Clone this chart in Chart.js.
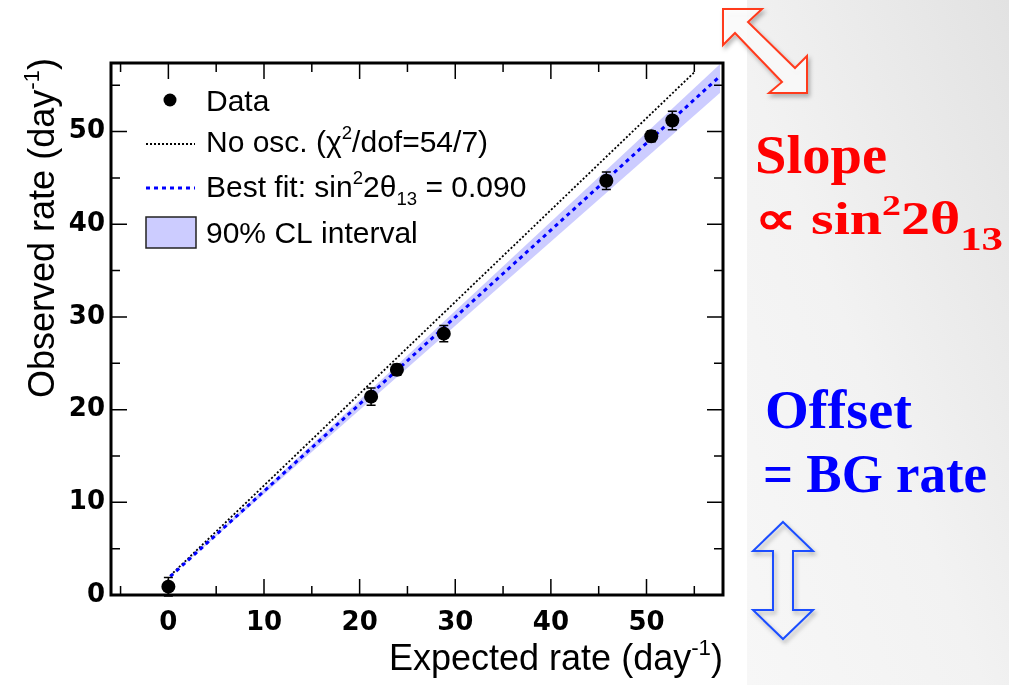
<!DOCTYPE html>
<html>
<head>
<meta charset="utf-8">
<script src="https://cdn.jsdelivr.net/npm/chart.js@4.4.1/dist/chart.umd.min.js"></script>
<style>
  html, body { margin: 0; padding: 0; width: 1009px; height: 685px; overflow: hidden; background: #fff; }
  #wrap { position: relative; width: 1009px; height: 685px; }
  #slide { position: absolute; left: 747px; top: 0; width: 262px; height: 685px;
           background: linear-gradient(to bottom left, #e2e2e2 0%, #f2f2f2 55%, #f7f7f7 100%); }
  #plot { position: absolute; left: 0; top: 0; }
  #notes { position: absolute; left: 0; top: 0; }
  #notes text { font-family: "Liberation Serif", serif; font-weight: bold; }
</style>
</head>
<body>
<div id="wrap">
  <div id="slide"></div>
  <canvas id="plot" width="1009" height="685"></canvas>
  <svg id="notes" width="1009" height="685">
    <defs>
      <filter id="shadow" x="-20%" y="-20%" width="140%" height="140%">
        <feDropShadow dx="2" dy="3" stdDeviation="2" flood-color="#000" flood-opacity="0.3"/>
      </filter>
    </defs>
    <!-- slope arrow -->
    <polygon points="723,9 762,9 748,22 795,68 807,56 807,93 769,93 782,82 735,33 723,45"
             fill="#fff" fill-opacity="0.8" stroke="#ff3b1f" stroke-width="2" filter="url(#shadow)"/>
    <!-- offset arrow -->
    <polygon points="783,522 813,551 793,551 793,610 813,610 783,639 753,610 773,610 773,551 753,551"
             fill="none" stroke="#1a4dff" stroke-width="2" filter="url(#shadow)"/>
    <text x="755" y="173" font-size="55" fill="#ff0000" textLength="132" lengthAdjust="spacingAndGlyphs">Slope</text>
    <text x="755" y="234" font-size="46" fill="#ff0000" textLength="248" lengthAdjust="spacingAndGlyphs">∝ sin<tspan font-size="30" dy="-19">2</tspan><tspan dy="19">2θ</tspan><tspan font-size="34" dy="16">13</tspan></text>
    <text x="765" y="428" font-size="54" fill="#0000ff" textLength="147" lengthAdjust="spacingAndGlyphs">Offset</text>
    <text x="763" y="492" font-size="54" fill="#0000ff" textLength="224" lengthAdjust="spacingAndGlyphs">= BG rate</text>
  </svg>
</div>
<script>
// measured rates per detector (day^-1)
const expected = [0.0, 21.2, 23.9, 28.8, 45.8, 50.5, 52.7];
const observed = [0.9, 21.4, 24.3, 28.2, 44.7, 49.5, 51.2];
const obsError = [1.0, 0.94, 0.6, 0.88, 0.94, 0.6, 1.0];

// no oscillation line and best fit line end points
const noOscX = [0.2, 55.1];
const noOscY = [2.1, 56.5];
const fitX = [0.2, 57.5];
const fitY = [2.0, 55.8];

// 90% CL band edges
const bandX = [0.2, 57.7];
const bandHigh = [2.0, 57.3];
const bandLow = [2.0, 54.2];

// axes
const xRange = [-6, 58];
const yRange = [0, 57.4];
const tickStep = 5;
const labelStep = 10;

const legendText = [
    [['Data']],
    [['No osc. (χ'], ['2', 'sup'], ['/dof=54/7)']],
    [['Best fit: sin'], ['2', 'sup'], ['2θ'], ['13', 'sub'], [' = 0.090']],
    [['90% CL interval']]
];
const xTitle = [['Expected rate (day'], ['-1', 'sup'], [')']];
const yTitle = [['Observed rate (day'], ['-1', 'sup'], [')']];

const pts = (xs, ys) => xs.map((x, i) => ({ x, y: ys[i] }));

const BAND = '#ccccff';
const TEXT_FONT = '"Liberation Sans", Arial, sans-serif';
const TICK_FONT = { family: '"DejaVu Sans"', weight: 'bold', size: 26 };

// draws a text with super/subscript parts, returns its width
function richText(ctx, parts, x, y, size, draw = true) {
    let cx = 0;
    parts.forEach(([t, kind]) => {
        const s = kind ? size * 0.62 : size;
        const dy = kind === 'sup' ? -size * 0.42 : kind === 'sub' ? size * 0.28 : 0;
        ctx.font = `${s}px ${TEXT_FONT}`;
        if (draw) ctx.fillText(t, x + cx, y + dy);
        cx += ctx.measureText(t).width;
    });
    return cx;
}

const errorBars = {
    id: 'errorBars',
    beforeDatasetDraw(chart, args) {
        if (args.index !== 0) return;
        const { ctx, scales: { x, y } } = chart;
        ctx.save();
        ctx.strokeStyle = '#000';
        ctx.lineWidth = 1.5;
        expected.forEach((ex, i) => {
            const px = x.getPixelForValue(ex);
            const top = y.getPixelForValue(observed[i] + obsError[i]);
            const bot = y.getPixelForValue(observed[i] - obsError[i]);
            ctx.beginPath();
            ctx.moveTo(px, top); ctx.lineTo(px, bot);
            ctx.moveTo(px - 4.5, top); ctx.lineTo(px + 4.5, top);
            ctx.moveTo(px - 4.5, bot); ctx.lineTo(px + 4.5, bot);
            ctx.stroke();
        });
        ctx.restore();
    }
};

// frame with inward ticks on all four sides, axis titles and legend
const frame = {
    id: 'frame',
    afterDraw(chart) {
        const { ctx, chartArea: a, scales: { x, y } } = chart;
        ctx.save();
        ctx.strokeStyle = '#000';
        ctx.lineWidth = 1.5;
        ctx.beginPath();
        x.ticks.forEach(t => {
            const px = x.getPixelForValue(t.value);
            const len = t.value % labelStep === 0 ? 16 : 9;
            ctx.moveTo(px, a.bottom); ctx.lineTo(px, a.bottom - len);
            ctx.moveTo(px, a.top); ctx.lineTo(px, a.top + len);
        });
        y.ticks.forEach(t => {
            const py = y.getPixelForValue(t.value);
            const len = t.value % labelStep === 0 ? 16 : 9;
            ctx.moveTo(a.left, py); ctx.lineTo(a.left + len, py);
            ctx.moveTo(a.right, py); ctx.lineTo(a.right - len, py);
        });
        ctx.stroke();

        ctx.lineWidth = 3;
        ctx.strokeRect(a.left, a.top, a.right - a.left, a.bottom - a.top);

        // axis titles
        ctx.fillStyle = '#000';
        ctx.textBaseline = 'alphabetic';
        const tw = richText(ctx, xTitle, 0, 0, 36, false);
        richText(ctx, xTitle, a.right - tw, 670, 36);
        const th = richText(ctx, yTitle, 0, 0, 36, false);
        ctx.translate(54, a.top - 5 + th);
        ctx.rotate(-Math.PI / 2);
        richText(ctx, yTitle, 0, 0, 36);
        ctx.restore();

        // legend
        const ds = chart.data.datasets;
        const tx = 206;
        const base = [111, 152, 197, 243];
        ctx.save();
        ctx.fillStyle = '#000';
        ctx.beginPath();
        ctx.arc(170, 100, 6.5, 0, Math.PI * 2);
        ctx.fill();

        [[ds[2], 144], [ds[1], 188]].forEach(([d, ly]) => {
            ctx.strokeStyle = d.borderColor;
            ctx.lineWidth = d.borderWidth;
            ctx.setLineDash(d.borderDash);
            ctx.beginPath();
            ctx.moveTo(146, ly); ctx.lineTo(195, ly);
            ctx.stroke();
        });
        ctx.setLineDash([]);
        ctx.fillStyle = BAND;
        ctx.fillRect(146, 217, 50, 31);
        ctx.strokeStyle = '#222';
        ctx.lineWidth = 1.5;
        ctx.strokeRect(146, 217, 50, 31);

        ctx.fillStyle = '#000';
        legendText.forEach((parts, i) => richText(ctx, parts, tx, base[i], 30));
        ctx.restore();
    }
};

new Chart(document.getElementById('plot'), {
    type: 'line',
    data: {
        datasets: [
            {
                label: 'Data',
                data: pts(expected, observed),
                showLine: false,
                pointRadius: 7,
                pointBackgroundColor: '#000',
                pointBorderWidth: 0
            },
            {
                label: 'Best fit: sin²2θ13 = 0.090',
                data: pts(fitX, fitY),
                borderColor: '#0000ff',
                borderWidth: 3,
                borderDash: [4, 4],
                pointRadius: 0
            },
            {
                label: 'No osc. (χ²/dof=54/7)',
                data: pts(noOscX, noOscY),
                borderColor: '#000',
                borderWidth: 1.8,
                borderDash: [2, 2],
                pointRadius: 0
            },
            {
                label: '90% CL interval',
                data: pts(bandX, bandHigh),
                borderWidth: 0,
                pointRadius: 0,
                fill: false
            },
            {
                label: '90% CL interval (low)',
                data: pts(bandX, bandLow),
                borderWidth: 0,
                pointRadius: 0,
                backgroundColor: BAND,
                fill: '-1'
            }
        ]
    },
    options: {
        responsive: false,
        animation: false,
        layout: { padding: { left: 0, top: 63, right: 286, bottom: 0 } },
        plugins: { legend: { display: false }, tooltip: { enabled: false } },
        scales: {
            x: {
                type: 'linear',
                min: xRange[0],
                max: xRange[1],
                grid: { display: false, drawTicks: false },
                border: { display: false },
                ticks: {
                    stepSize: tickStep,
                    includeBounds: false,
                    autoSkip: false,
                    maxRotation: 0,
                    padding: 13,
                    color: '#000',
                    font: TICK_FONT,
                    callback: v => (v % labelStep === 0 ? v : '')
                },
                afterFit: s => { s.height = 90; s.paddingLeft = 0; s.paddingRight = 0; }
            },
            y: {
                type: 'linear',
                min: yRange[0],
                max: yRange[1],
                grid: { display: false, drawTicks: false },
                border: { display: false },
                ticks: {
                    stepSize: tickStep,
                    includeBounds: false,
                    autoSkip: false,
                    padding: 6,
                    color: '#000',
                    font: TICK_FONT,
                    callback: v => (v % labelStep === 0 ? v : '')
                },
                afterFit: s => { s.width = 111; s.paddingTop = 0; s.paddingBottom = 0; }
            }
        }
    },
    plugins: [errorBars, frame]
});
</script>
</body>
</html>
